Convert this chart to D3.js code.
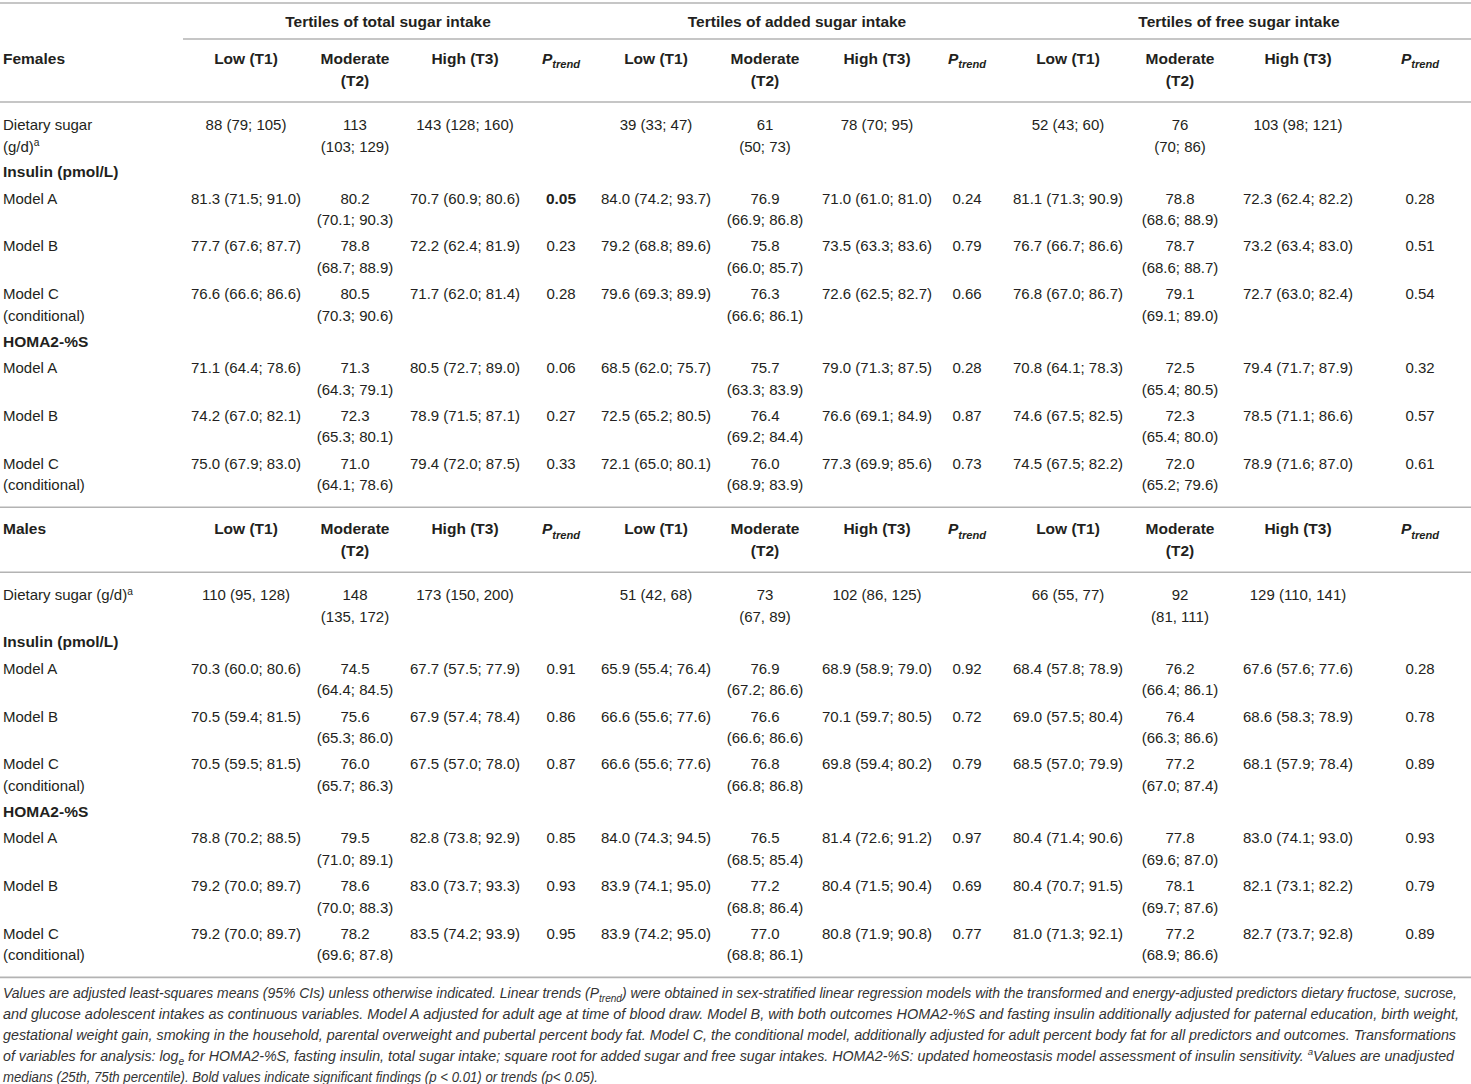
<!DOCTYPE html>
<html>
<head>
<meta charset="utf-8">
<script src="https://cdn.jsdelivr.net/npm/d3@7"></script>
<style>
body { margin: 0; background: #fff; }
svg text { font-family: "Liberation Sans", Arial, Helvetica, sans-serif; fill: #231f20; }
</style>
</head>
<body>
<div id="vis"></div>
<script>
// column groups and tertile headers
var groups = ["Tertiles of total sugar intake", "Tertiles of added sugar intake", "Tertiles of free sugar intake"];
var tertiles = ["Low (T1)", "Moderate (T2)", "High (T3)"];
var trendHeader = "P_{trend}";
var sexes = ["Females", "Males"];
var outcomes = ["Insulin (pmol/L)", "HOMA2-%S"];
var dietLabels = ["Dietary sugar\n(g/d)^a", "Dietary sugar (g/d)^a"];
var modelLabels = ["Model A", "Model B", "Model C\n(conditional)"];

// values: total T1,T2,T3,P | added T1,T2,T3,P | free T1,T2,T3,P   ("**" = bold)
var femDiet = ["88 (79; 105)", "113 (103; 129)", "143 (128; 160)", "", "39 (33; 47)", "61 (50; 73)", "78 (70; 95)", "", "52 (43; 60)", "76 (70; 86)", "103 (98; 121)", ""];
var femInsA = ["81.3 (71.5; 91.0)", "80.2 (70.1; 90.3)", "70.7 (60.9; 80.6)", "**0.05", "84.0 (74.2; 93.7)", "76.9 (66.9; 86.8)", "71.0 (61.0; 81.0)", "0.24", "81.1 (71.3; 90.9)", "78.8 (68.6; 88.9)", "72.3 (62.4; 82.2)", "0.28"];
var femInsB = ["77.7 (67.6; 87.7)", "78.8 (68.7; 88.9)", "72.2 (62.4; 81.9)", "0.23", "79.2 (68.8; 89.6)", "75.8 (66.0; 85.7)", "73.5 (63.3; 83.6)", "0.79", "76.7 (66.7; 86.6)", "78.7 (68.6; 88.7)", "73.2 (63.4; 83.0)", "0.51"];
var femInsC = ["76.6 (66.6; 86.6)", "80.5 (70.3; 90.6)", "71.7 (62.0; 81.4)", "0.28", "79.6 (69.3; 89.9)", "76.3 (66.6; 86.1)", "72.6 (62.5; 82.7)", "0.66", "76.8 (67.0; 86.7)", "79.1 (69.1; 89.0)", "72.7 (63.0; 82.4)", "0.54"];
var femHomA = ["71.1 (64.4; 78.6)", "71.3 (64.3; 79.1)", "80.5 (72.7; 89.0)", "0.06", "68.5 (62.0; 75.7)", "75.7 (63.3; 83.9)", "79.0 (71.3; 87.5)", "0.28", "70.8 (64.1; 78.3)", "72.5 (65.4; 80.5)", "79.4 (71.7; 87.9)", "0.32"];
var femHomB = ["74.2 (67.0; 82.1)", "72.3 (65.3; 80.1)", "78.9 (71.5; 87.1)", "0.27", "72.5 (65.2; 80.5)", "76.4 (69.2; 84.4)", "76.6 (69.1; 84.9)", "0.87", "74.6 (67.5; 82.5)", "72.3 (65.4; 80.0)", "78.5 (71.1; 86.6)", "0.57"];
var femHomC = ["75.0 (67.9; 83.0)", "71.0 (64.1; 78.6)", "79.4 (72.0; 87.5)", "0.33", "72.1 (65.0; 80.1)", "76.0 (68.9; 83.9)", "77.3 (69.9; 85.6)", "0.73", "74.5 (67.5; 82.2)", "72.0 (65.2; 79.6)", "78.9 (71.6; 87.0)", "0.61"];

var malDiet = ["110 (95, 128)", "148 (135, 172)", "173 (150, 200)", "", "51 (42, 68)", "73 (67, 89)", "102 (86, 125)", "", "66 (55, 77)", "92 (81, 111)", "129 (110, 141)", ""];
var malInsA = ["70.3 (60.0; 80.6)", "74.5 (64.4; 84.5)", "67.7 (57.5; 77.9)", "0.91", "65.9 (55.4; 76.4)", "76.9 (67.2; 86.6)", "68.9 (58.9; 79.0)", "0.92", "68.4 (57.8; 78.9)", "76.2 (66.4; 86.1)", "67.6 (57.6; 77.6)", "0.28"];
var malInsB = ["70.5 (59.4; 81.5)", "75.6 (65.3; 86.0)", "67.9 (57.4; 78.4)", "0.86", "66.6 (55.6; 77.6)", "76.6 (66.6; 86.6)", "70.1 (59.7; 80.5)", "0.72", "69.0 (57.5; 80.4)", "76.4 (66.3; 86.6)", "68.6 (58.3; 78.9)", "0.78"];
var malInsC = ["70.5 (59.5; 81.5)", "76.0 (65.7; 86.3)", "67.5 (57.0; 78.0)", "0.87", "66.6 (55.6; 77.6)", "76.8 (66.8; 86.8)", "69.8 (59.4; 80.2)", "0.79", "68.5 (57.0; 79.9)", "77.2 (67.0; 87.4)", "68.1 (57.9; 78.4)", "0.89"];
var malHomA = ["78.8 (70.2; 88.5)", "79.5 (71.0; 89.1)", "82.8 (73.8; 92.9)", "0.85", "84.0 (74.3; 94.5)", "76.5 (68.5; 85.4)", "81.4 (72.6; 91.2)", "0.97", "80.4 (71.4; 90.6)", "77.8 (69.6; 87.0)", "83.0 (74.1; 93.0)", "0.93"];
var malHomB = ["79.2 (70.0; 89.7)", "78.6 (70.0; 88.3)", "83.0 (73.7; 93.3)", "0.93", "83.9 (74.1; 95.0)", "77.2 (68.8; 86.4)", "80.4 (71.5; 90.4)", "0.69", "80.4 (70.7; 91.5)", "78.1 (69.7; 87.6)", "82.1 (73.1; 82.2)", "0.79"];
var malHomC = ["79.2 (70.0; 89.7)", "78.2 (69.6; 87.8)", "83.5 (74.2; 93.9)", "0.95", "83.9 (74.2; 95.0)", "77.0 (68.8; 86.1)", "80.8 (71.9; 90.8)", "0.77", "81.0 (71.3; 92.1)", "77.2 (68.9; 86.6)", "82.7 (73.7; 92.8)", "0.89"];

var footnote = [
    "Values are adjusted least-squares means (95% CIs) unless otherwise indicated. Linear trends (P_{trend}) were obtained in sex-stratified linear regression models with the transformed and energy-adjusted predictors dietary fructose, sucrose,",
    "and glucose adolescent intakes as continuous variables. Model A adjusted for adult age at time of blood draw. Model B, with both outcomes HOMA2-%S and fasting insulin additionally adjusted for paternal education, birth weight,",
    "gestational weight gain, smoking in the household, parental overweight and pubertal percent body fat. Model C, the conditional model, additionally adjusted for adult percent body fat for all predictors and outcomes. Transformations",
    "of variables for analysis: log_{e} for HOMA2-%S, fasting insulin, total sugar intake; square root for added sugar and free sugar intakes. HOMA2-%S: updated homeostasis model assessment of insulin sensitivity. ^aValues are unadjusted",
    "medians (25th, 75th percentile). Bold values indicate significant findings (p < 0.01) or trends (p< 0.05)."
];
var noteWidths = [1454, 1456, 1453, 1451, 595];

var width = 1471;
var height = 1084;
var fontSize = 15;
var boldSize = 15.5;
var lineGap = 21.5;
var textShift = 5;
var ruleColor = "#b3b3b3";
var noteSize = 14.2;
var svgElement;

var x = d3.scaleOrdinal()
    .domain(d3.range(12))
    .range([246, 355, 465, 561, 656, 765, 877, 967, 1068, 1180, 1298, 1420]);
var groupX = d3.scaleOrdinal().domain(d3.range(3)).range([388, 797, 1239]);

function main() {
    svgElement = d3.select('#vis').append('svg')
        .attr('width', width)
        .attr('height', height);

    var femBlocks = [[femInsA, femInsB, femInsC], [femHomA, femHomB, femHomC]];
    var malBlocks = [[malInsA, malInsB, malInsC], [malHomA, malHomB, malHomC]];

    hline(3, 0, width);
    groups.forEach(function (g, i) {
        cell(groupX(i), 22, g, 'middle', true);
    });
    hline(39, 183, width);

    var y = section(59, 0, femDiet, femBlocks);
    y = section(y + 22, 1, malDiet, malBlocks);

    footnote.forEach(function (line, i) {
        var t = svgElement.append('text')
            .attr('x', 3)
            .attr('y', y + 21 + i * 20.8)
            .attr('font-size', noteSize)
            .attr('font-style', 'italic')
            .style('fill', '#333');
        rich(t, line, noteSize);
        t.attr('textLength', noteWidths[i]).attr('lengthAdjust', 'spacingAndGlyphs');
    });
}

// one sex block: header row, dietary sugar row, two outcome blocks; returns y of closing rule
function section(y, s, diet, blocks) {
    cell(3, y, sexes[s], 'start', true);
    for (var c = 0; c < 12; c++) {
        if (c % 4 == 3) {
            cell(x(c), y, trendHeader, 'middle', true, true);
        } else {
            cell(x(c), y, tertiles[c % 4], 'middle', true);
        }
    }
    hline(y + 43, 0, width);
    y = y + 66;
    dataRow(y, dietLabels[s], diet);
    y = y + 47;
    blocks.forEach(function (models, o) {
        if (o > 0) y = y + 47.5;
        cell(3, y, outcomes[o], 'start', true);
        y = y + 26.5;
        models.forEach(function (vals, m) {
            if (m > 0) y = y + 47.8;
            dataRow(y, modelLabels[m], vals);
        });
    });
    hline(y + 43.5, 0, width);
    return y + 43.5;
}

function dataRow(y, label, vals) {
    cell(3, y, label, 'start', false);
    vals.forEach(function (v, c) {
        if (v == "") return;
        var bold = v.indexOf('**') == 0;
        cell(x(c), y, bold ? v.slice(2) : v, 'middle', bold);
    });
}

// moderate column (second of each group) breaks before the parenthesis
function cell(cx, y, str, anchor, bold, italic) {
    var lines = str.split('\n');
    if (anchor == 'middle' && str.indexOf(' (') > 0 && isModerate(cx)) {
        var k = str.indexOf(' (');
        lines = [str.slice(0, k), str.slice(k + 1)];
    }
    var size = bold ? boldSize : fontSize;
    lines.forEach(function (line, i) {
        var t = svgElement.append('text')
            .attr('x', cx)
            .attr('y', y + textShift + i * lineGap)
            .attr('dy', '0.36em')
            .attr('text-anchor', anchor)
            .attr('font-size', size)
            .attr('font-weight', bold ? 'bold' : 'normal')
            .attr('font-style', italic ? 'italic' : 'normal');
        rich(t, line, size);
    });
}

function isModerate(cx) {
    return [x(1), x(5), x(9)].indexOf(cx) >= 0;
}

// ^a superscript, _{..} subscript
function rich(t, str, size) {
    var parts = str.split(/(\^\w|_\{[^}]*\})/);
    var back = 0;
    parts.forEach(function (p) {
        if (!p) return;
        if (p[0] == '^') {
            t.append('tspan').attr('dy', -0.38 * size - back).attr('font-size', size * 0.68).text(p.slice(1));
            back = -0.38 * size;
        } else if (p[0] == '_' && p[1] == '{') {
            t.append('tspan').attr('dy', 0.28 * size - back).attr('font-size', size * 0.72).text(p.slice(2, -1));
            back = 0.28 * size;
        } else {
            t.append('tspan').attr('dy', -back).text(p);
            back = 0;
        }
    });
}

function hline(y, x1, x2) {
    svgElement.append('line')
        .attr('x1', x1).attr('x2', x2)
        .attr('y1', y).attr('y2', y)
        .attr('stroke', ruleColor)
        .attr('stroke-width', 1.6);
}

main();
</script>
</body>
</html>
